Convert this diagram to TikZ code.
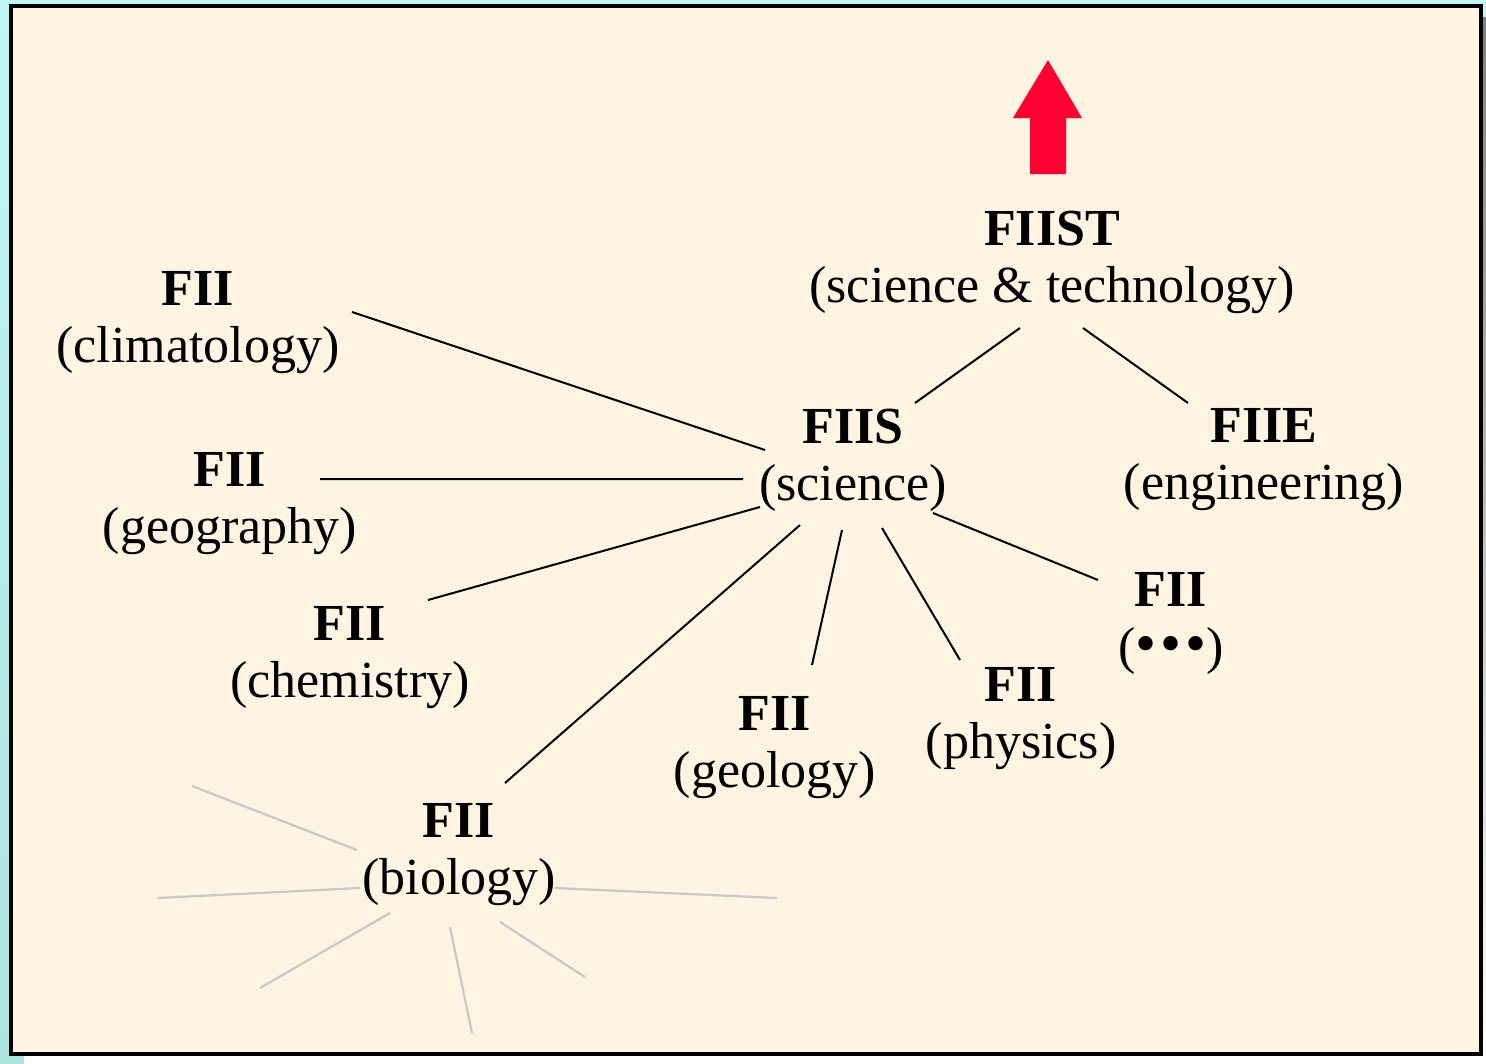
\documentclass[tikz,border=0pt]{standalone}
\usepackage{fontspec}
\setmainfont{Liberation Serif}
\usetikzlibrary{positioning}
\definecolor{panel}{RGB}{255,243,225}
\definecolor{sky}{RGB}{190,248,245}
\definecolor{skylow}{RGB}{172,228,222}
\definecolor{shade}{RGB}{140,140,140}
\definecolor{uparrow}{RGB}{255,0,48}
\definecolor{faint}{RGB}{200,200,200}
\tikzset{x=1pt, y=-1pt,
lbl/.style={align=center, inner sep=0pt, font=\fontsize{52}{57}\selectfont},
spoke/.style={line width=2pt, black},
ghost/.style={line width=2.2pt, faint},
}

\begin{document}
\begin{tikzpicture}
            \shade[top color=sky, bottom color=skylow] (0,0) rectangle (1486,1063);
            \fill[shade] (24,17) rectangle (1486,1063);
            \draw[line width=3.5pt, fill=panel] (11,6) rectangle (1481,1054);
            \fill[uparrow] (1048,60) -- (1082,118) -- (1066,118) -- (1066,174)
                  -- (1030,174) -- (1030,118) -- (1013,118) -- cycle;

            \node[lbl](fiist) at (1052,262) {\textbf{FIIST}\\(science \& technology)};
            \node[lbl](fiis) at (853,460) {\textbf{FIIS}\\(science)};
            \node[lbl](fiie) at (1264,460) {\textbf{FIIE}\\(engineering)};
            \node[lbl](clim) at (198,323) {\textbf{FII}\\(climatology)};
            \node[lbl](geog) at (230,504) {\textbf{FII}\\(geography)};
            \node[lbl](chem) at (350,658) {\textbf{FII}\\(chemistry)};
            \node[lbl](bio) at (459,855) {\textbf{FII}\\(biology)};
            \node[lbl](geol) at (775,748) {\textbf{FII}\\(geology)};
            \node[lbl](phys) at (1021,719) {\textbf{FII}\\(physics)};
            \node[lbl](more) at (1171,624) {\textbf{FII}\\({\fontsize{60}{60}\selectfont\textbullet\kern4pt\textbullet\kern4pt\textbullet})};

            \draw[spoke] ([shift={(62,-57)}]fiis.center) -- ([shift={(-32,66)}]fiist.center)
                  ([shift={(31,66)}]fiist.center) -- ([shift={(-76,-57)}]fiie.center)
                  ([shift={(-88,-10)}]fiis.center) -- ([shift={(154,-11)}]clim.center)
                  ([shift={(-110,19)}]fiis.center) -- ([shift={(90,-25)}]geog.center)
                  ([shift={(-93,47)}]fiis.center) -- ([shift={(78,-58)}]chem.center)
                  ([shift={(-53,65)}]fiis.center) -- ([shift={(46,-72)}]bio.center)
                  ([shift={(-11,70)}]fiis.center) -- ([shift={(37,-83)}]geol.center)
                  ([shift={(29,68)}]fiis.center) -- ([shift={(-61,-59)}]phys.center)
                  ([shift={(80,53)}]fiis.center) -- ([shift={(-73,-44)}]more.center);

            % loose ends round biology
            \coordinate (g1) at (192,786);
            \coordinate (g2) at (158,898);
            \coordinate (g3) at (260,988);
            \coordinate (g4) at (472,1033);
            \coordinate (g5) at (585,977);
            \coordinate (g6) at (777,898);
            \draw[ghost] ([shift={(-102,-5)}]bio.center) -- (g1)
                  ([shift={(-99,33)}]bio.center) -- (g2)
                  ([shift={(-69,58)}]bio.center) -- (g3)
                  ([shift={(-9,72)}]bio.center) -- (g4)
                  ([shift={(41,67)}]bio.center) -- (g5)
                  ([shift={(96,33)}]bio.center) -- (g6);
        \end{tikzpicture}
\end{document}
